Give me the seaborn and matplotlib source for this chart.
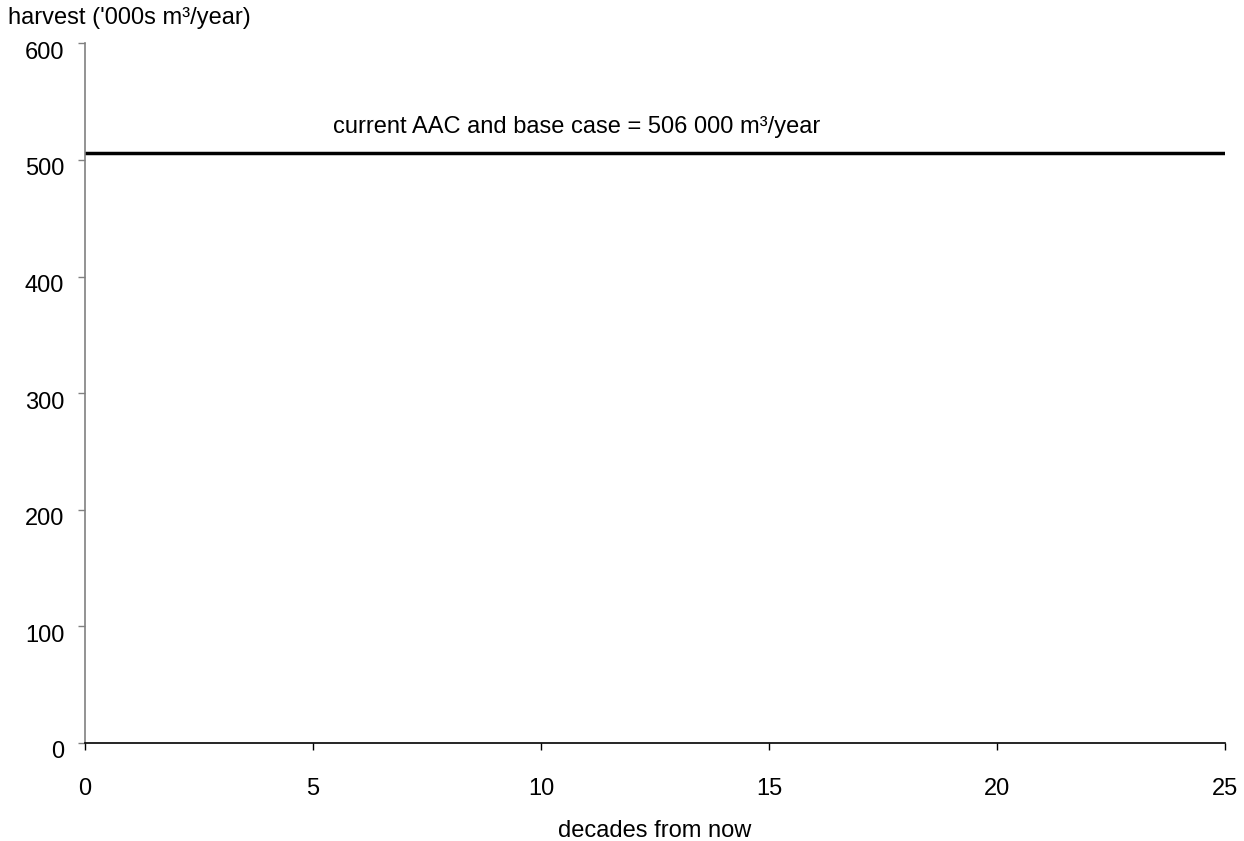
import matplotlib
matplotlib.use("Agg")
import matplotlib.pyplot as plt
import matplotlib.transforms as mtransforms
import seaborn as sns
import pandas as pd

decades = [0, 25]
harvest = [506, 506]
x_ticks = [0, 5, 10, 15, 20, 25]
y_ticks = [0, 100, 200, 300, 400, 500, 600]

sns.set_theme(style="ticks")
plt.rcParams['font.family'] = ['Liberation Sans', 'DejaVu Sans']
plt.rcParams['text.color'] = 'black'

df = pd.DataFrame({"decades": decades, "harvest": harvest})

fig = plt.figure(figsize=(12.44, 8.41), dpi=100)
ax = fig.add_axes([85/1244, 1-743/841, (1225-85)/1244, (743-43.4)/841])

sns.lineplot(data=df, x="decades", y="harvest", ax=ax, color="black", linewidth=2.5)

ax.set_xlim(0, 25)
ax.set_ylim(0, 600)
ax.set_xticks(x_ticks)
ax.set_yticks(y_ticks)
ax.set_xlabel("")
ax.set_ylabel("")
ax.spines['top'].set_visible(False)
ax.spines['right'].set_visible(False)
ax.spines['left'].set_color('#808080')
ax.spines['left'].set_linewidth(1.2)
ax.spines['bottom'].set_color('black')
ax.spines['bottom'].set_linewidth(1.2)
ax.tick_params(axis='x', direction='out', length=5, width=1, colors='black', pad=20, labelsize=17)
ax.tick_params(axis='y', direction='out', length=5, width=1, color='#808080', labelcolor='black', pad=10, labelsize=17)

offset = mtransforms.ScaledTranslation(0, -7/100, fig.dpi_scale_trans)
for lbl in ax.get_yticklabels():
    lbl.set_transform(lbl.get_transform() + offset)

ax.text(5.44, 528, "current AAC and base case = 506 000 m³/year", ha='left', va='center', fontsize=17, color='black')

fig.text(8/1244, 1-18/841, "harvest ('000s m³/year)", ha='left', va='center', fontsize=17, color='black')
fig.text(655/1244, 1-831/841, "decades from now", ha='center', va='center', fontsize=17, color='black')

fig.savefig("out.png", dpi=100)
